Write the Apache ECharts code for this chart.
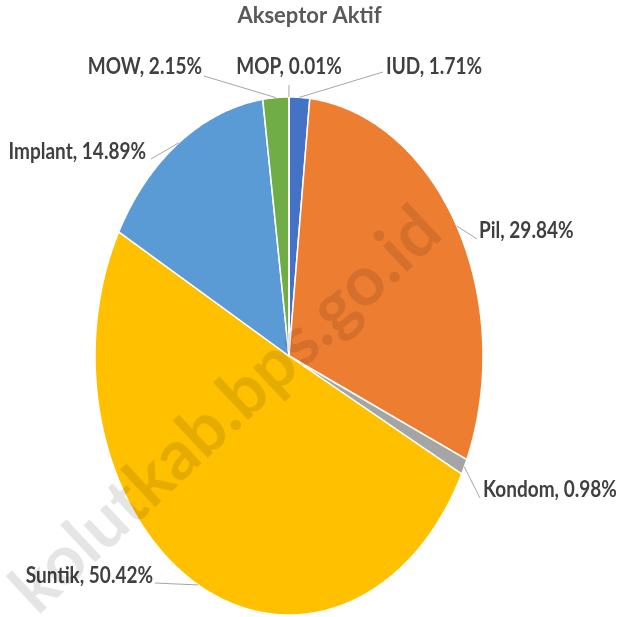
<!DOCTYPE html>
<html><head><meta charset="utf-8">
<script src="https://cdn.jsdelivr.net/npm/echarts@6/dist/echarts.min.js"></script>
<style>html,body{margin:0;padding:0;background:#fff}#c{width:619px;height:617px}</style>
</head><body><div id="c"></div>
<script>
// ---- data ----
const titleText = 'Akseptor Aktif';
const categories = ['IUD', 'Pil', 'Kondom', 'Suntik', 'Implant', 'MOW', 'MOP'];
const values = [1.71, 29.84, 0.98, 50.42, 14.89, 2.15, 0.01];
const watermarkText = 'kolutkab.bps.go.id';

// ---- style / layout ----
const colors = ['#4472C4', '#ED7D31', '#A5A5A5', '#FFC000', '#5B9BD5', '#70AD47', '#264478'];
const CX = 289, CY = 356, RX = 194, RY = 259;
// [lineEndX, lineEndY, textX, textY, align]
const labelLayout = [
  [383, 72, 386, 67, 'left'],
  [477, 239, 479, 231, 'left'],
  [480, 498, 483, 490, 'left'],
  [155, 583, 153, 576, 'right'],
  [151, 159, 146, 151.5, 'right'],
  [204, 76, 202, 67, 'right'],
  [289, 85, 289, 67, 'center']
];

const total = values.reduce((a, b) => a + b, 0);
const starts = []; let acc = 0;
values.forEach(v => { starts.push(acc); acc += v; });
function pt(t) { return [CX + RX * Math.sin(t), CY - RY * Math.cos(t)]; }
function angles(i, v) {
  return [starts[i] / total * 2 * Math.PI, (starts[i] + v) / total * 2 * Math.PI];
}

const seriesData = values.map((v, i) => ({ name: categories[i], value: [v] }));

const chart = echarts.init(document.getElementById('c'), null, { renderer: 'canvas' });
chart.setOption({
  animation: false,
  backgroundColor: '#fff',
  title: {
    text: titleText, left: 'center', top: 5, padding: 0,
    textStyle: { fontFamily: 'Lato', fontWeight: 'bold', fontSize: 22, color: '#595959' }
  },
  series: [
    {
      type: 'custom', coordinateSystem: 'none', data: seriesData, z: 1,
      renderItem: function (params, api) {
        const i = params.dataIndex;
        const v = api.value(0);
        const [a0, a1] = angles(i, v);
        const pts = [[CX, CY]];
        const n = Math.max(2, Math.ceil((a1 - a0) / (Math.PI / 360)));
        for (let k = 0; k <= n; k++) pts.push(pt(a0 + (a1 - a0) * k / n));
        return {
          type: 'polygon', shape: { points: pts },
          style: { fill: colors[i], stroke: '#fff', lineWidth: 1.5, lineJoin: 'round' }
        };
      }
    },
    {
      type: 'custom', coordinateSystem: 'none', data: seriesData, z: 2,
      renderItem: function (params, api) {
        const i = params.dataIndex;
        const v = api.value(0);
        const [a0, a1] = angles(i, v);
        const e = pt((a0 + a1) / 2);
        const L = labelLayout[i];
        return {
          type: 'group', children: [
            { type: 'polyline', shape: { points: [e, [L[0], L[1]]] },
              style: { stroke: '#A6A6A6', lineWidth: 1, fill: null } },
            { type: 'text', x: L[2], y: L[3], scaleY: 1.15,
              style: { text: categories[i] + ', ' + v.toFixed(2) + '%', fill: '#404040',
                fontFamily: 'Lato', fontWeight: 'bold', fontSize: 19,
                align: L[4], verticalAlign: 'middle' } }
          ]
        };
      }
    }
  ],
  graphic: [{
    type: 'text', x: 430, y: 220, rotation: 43 * Math.PI / 180, z: 100, silent: true,
    style: { text: watermarkText, fontFamily: 'Lato', fontWeight: 'bold', fontSize: 69,
      fill: 'rgba(0,0,0,0.1)', align: 'right', verticalAlign: 'middle' }
  }]
});
</script></body></html>
